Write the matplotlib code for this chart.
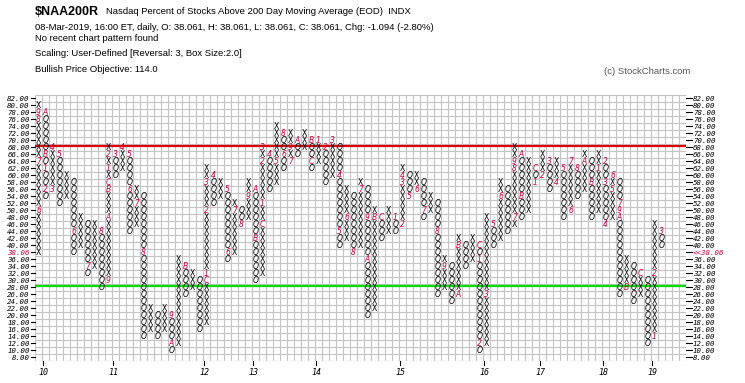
import numpy as np
import matplotlib
matplotlib.use("Agg")
from matplotlib import pyplot as plt

# point & figure: box 2, reversal 3. columns alternate X / O, starting with X
box = 2
first_start = 38
# extreme of each column (high for X columns, low for O columns)
col_ext = [80, 54, 68, 52, 60, 38, 48, 32, 46, 28,
           68, 60, 68, 44, 56, 14, 22, 14, 22, 10,
           36, 26, 32, 16, 62, 52, 58, 36, 52, 46,
           58, 30, 68, 56, 74, 62, 72, 66, 72, 62,
           70, 58, 70, 40, 56, 38, 58, 20, 50, 42,
           50, 44, 62, 54, 60, 48, 54, 26, 36, 24,
           42, 34, 42, 10, 48, 40, 58, 44, 68, 48,
           64, 58, 66, 56, 64, 48, 64, 54, 66, 48,
           66, 46, 60, 26, 36, 24, 32, 12, 46, 40]

# month markers (column, box, text)
lab_col = [0, 0, 0, 0, 1, 1, 1, 1, 2, 2, 3, 5, 7, 9,
           10, 10, 10, 10, 10, 10, 11, 12, 13, 13, 14, 15, 19, 19, 21,
           24, 24, 24, 24, 25, 27, 27, 28, 29, 30, 31, 31, 32, 32, 32, 32,
           33, 34, 35, 35, 36, 36, 37, 39, 39, 40, 41, 42, 43, 43,
           44, 45, 46, 47, 47, 48, 49, 51, 52, 52, 52, 53, 54, 55, 57, 58,
           60, 60, 63, 63, 63, 64, 65, 66, 68, 68, 68, 69, 69, 71, 71, 72,
           73, 74, 75, 76, 76, 77, 78, 79, 80, 81, 81, 81, 82, 82, 83, 83, 83,
           84, 86, 88, 88, 89]
lab_val = [50, 64, 76, 78, 78, 66, 62, 56, 56, 68, 66, 44, 34, 44,
           30, 48, 56, 58, 62, 66, 66, 68, 66, 56, 52, 38, 20, 12, 34,
           30, 32, 50, 58, 60, 56, 38, 50, 46, 54, 56, 42, 46, 52, 64, 68,
           66, 64, 72, 66, 64, 68, 70, 70, 64, 70, 68, 70, 60, 44,
           48, 38, 56, 48, 36, 48, 48, 48, 46, 58, 60, 54, 56, 50, 44, 34,
           26, 40, 40, 36, 12, 26, 46, 54, 48, 62, 64, 66, 54, 62, 58, 60,
           64, 58, 62, 50, 64, 62, 64, 58, 62, 64, 58, 46, 56, 60, 52, 50, 48,
           28, 32, 14, 32, 44]
lab_txt = ['6', '7', '8', '9', 'A', 'B', '1', '2', '3', '4', '5', '6', '7', '8',
           '9', 'A', 'B', 'C', '1', '2', '3', '4', '5', '6', '7', '8', '9', 'A', 'B',
           'C', '1', '2', '3', '4', '5', '6', '7', '8', '9', 'A', 'B', 'C', '1', '2', '3',
           '4', '5', '8', '6', '7', '9', 'A', 'B', 'C', '1', '2', '3', '4', '5',
           '6', '8', '7', '9', 'A', 'B', 'C', '1', '2', '3', '4', '5', '6', '7', '8', '9',
           'A', 'B', 'C', '1', '2', '3', '5', '6', '7', '8', '9', 'A', 'B', 'C', '1', '2',
           '3', '4', '5', '6', '7', '8', 'A', 'B', '1', '2', '3', '4', '5', '6', '7', '9', 'A',
           'B', 'C', '1', '2', '3']

year_cols = [1, 11, 24, 31, 40, 52, 64, 72, 81, 88]
year_txt = ['10', '11', '12', '13', '14', '15', '16', '17', '18', '19']

levels = np.arange(8, 84, 2)
last_close = 38.06
red_level = 68.4
green_level = 28.4

W, H = 745, 383
fig = plt.figure(figsize=(W / 100, H / 100), dpi=100)
ax = fig.add_axes([35 / W, 1 - 360.5 / H, 651 / W, 266 / H])
n_grid = 93
ax.set_xlim(0, n_grid)
ax.set_ylim(levels[0] - 1, levels[-1] + 1)
ax.axis('off')

# grid
ax.vlines(np.arange(0, n_grid + 1), levels[0] - 1, levels[-1] + 1, color='#c4c4c4', lw=0.8, zorder=1)
ax.hlines(np.arange(levels[0] - 1, levels[-1] + 2, 2), 0, n_grid, color='#c4c4c4', lw=0.8, zorder=1)

ax.axhline(red_level, color='#e00000', lw=1.6, zorder=2)
ax.axhline(green_level, color='#00dd00', lw=1.6, zorder=2)

marks = {(c, v): t for c, v, t in zip(lab_col, lab_val, lab_txt)}
cap = 0.8  # half cap height in box units
prev = None
for k, ext in enumerate(col_ext):
    is_x = (k % 2 == 0)
    if k == 0:
        start = first_start
    elif is_x:
        start = prev + box
    else:
        start = prev - box
    step = box if is_x else -box
    for v in range(start, ext + step, step):
        if (k, v) in marks:
            ax.text(k + 0.5, v - cap, marks[(k, v)], ha='center', va='baseline', fontsize=5.5,
                    color='#c8003c', style='italic', family='DejaVu Sans', zorder=3)
        else:
            ax.text(k + 0.5, v - cap, 'X' if is_x else 'O', ha='center', va='baseline', fontsize=5.5,
                    color='black', style='normal' if is_x else 'italic', family='DejaVu Sans', zorder=3)
    prev = ext

# value scales
for v in levels:
    red = (v == round(last_close / box) * box)
    ax.plot([-0.55, 0], [v, v], color='black', lw=0.8, clip_on=False)
    ax.plot([n_grid, n_grid + 0.85], [v, v], color='black', lw=0.8, clip_on=False)
    ax.text(-0.75, v - cap, f'{last_close:.2f}' if red else f'{v:.2f}', ha='right', va='baseline',
            fontsize=5.3, family='DejaVu Sans Mono', style='italic',
            color='#c8003c' if red else 'black', clip_on=False)
    ax.text(n_grid + 1.0, v - cap, f'<<{last_close:.2f}' if red else f'{v:.2f}', ha='left', va='baseline',
            fontsize=5.3, family='DejaVu Sans Mono', style='italic',
            color='#c8003c' if red else 'black', clip_on=False)

# years
for c, t in zip(year_cols, year_txt):
    ax.plot([c + 0.2, c + 0.2], [levels[0] - 1, levels[0] - 2.4], color='black', lw=0.8, clip_on=False)
    ax.text(c + 0.2, levels[0] - 5.2, t, ha='center', va='baseline', fontsize=6,
            family='DejaVu Sans Mono', style='italic', clip_on=False)

# header
fig.text(35 / W, 1 - 12 / H, '$NAA200R', fontsize=9, weight='bold', family='Liberation Sans',
         va='center', parse_math=False)
fig.text(106 / W, 1 - 12 / H, 'Nasdaq Percent of Stocks Above 200 Day Moving Average (EOD)  INDX',
         fontsize=6.8, family='Liberation Sans', va='center')
fig.text(35 / W, 1 - 28 / H,
         '08-Mar-2019, 16:00 ET, daily, O: 38.061, H: 38.061, L: 38.061, C: 38.061, Chg: -1.094 (-2.80%)',
         fontsize=6.8, family='Liberation Sans', va='center')
fig.text(35 / W, 1 - 38.5 / H, 'No recent chart pattern found', fontsize=6.8, family='Liberation Sans', va='center')
fig.text(35 / W, 1 - 53 / H, 'Scaling: User-Defined [Reversal: 3, Box Size:2.0]', fontsize=6.8,
         family='Liberation Sans', va='center')
fig.text(35 / W, 1 - 69.5 / H, 'Bullish Price Objective: 114.0', fontsize=6.8, family='Liberation Sans', va='center')
fig.text(690 / W, 1 - 71 / H, '(c) StockCharts.com', fontsize=6.8, family='Liberation Sans', va='center',
         ha='right', color='#555555')

fig.savefig('out.png', dpi=100)
